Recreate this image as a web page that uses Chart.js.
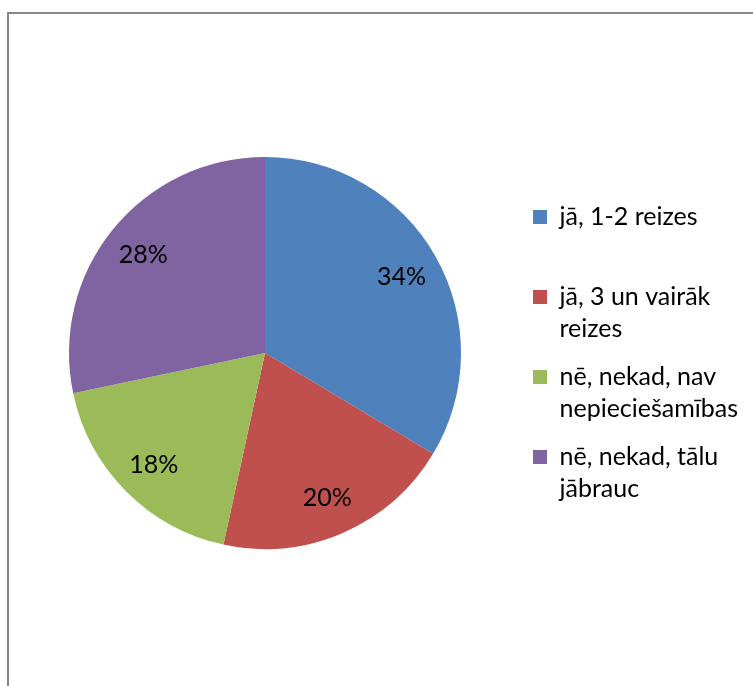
<!DOCTYPE html>
<html><head><meta charset="utf-8">
<script src="https://cdn.jsdelivr.net/npm/chart.js@4"></script>
<style>
html,body{margin:0;padding:0;background:#fff;overflow:hidden}
#wrap{position:relative;width:753px;height:686px;overflow:hidden}
#frame{position:absolute;left:7px;top:12px;width:800px;height:700px;border-left:2px solid #888;border-top:2px solid #888;box-sizing:border-box}
canvas{position:absolute;left:0;top:0}
</style></head><body>
<div id="wrap"><div id="frame"></div><canvas id="c" width="753" height="686"></canvas></div>
<script>
const categories = ["jā, 1-2 reizes", "jā, 3 un vairāk\nreizes", "nē, nekad, nav\nnepieciešamības", "nē, nekad, tālu\njābrauc"];
const values = [33.6, 19.8, 18.3, 28.3];
const colors = ["#4F81BD", "#C0504D", "#9BBB59", "#8064A2"];

const FONT = "Lato";

const legendWidth = {
  id: 'legendWidth',
  beforeLayout(chart) {
    const lg = chart.legend;
    if (lg && !lg._wPatched) {
      const f = lg.fit;
      lg.fit = function () { f.call(this); this.width = 236; };
      lg._wPatched = true;
    }
  }
};

const pctLabels = {
  id: 'pctLabels',
  afterDatasetsDraw(chart) {
    const ctx = chart.ctx;
    const meta = chart.getDatasetMeta(0);
    const total = values.reduce((a, b) => a + b, 0);
    ctx.save();
    ctx.font = "25px " + FONT;
    ctx.fillStyle = "#000";
    ctx.textAlign = "center";
    ctx.textBaseline = "middle";
    meta.data.forEach((arc, i) => {
      const p = arc.getProps(['x', 'y', 'startAngle', 'endAngle', 'outerRadius'], true);
      const mid = (p.startAngle + p.endAngle) / 2;
      const r = p.outerRadius * 0.8;
      ctx.fillText(Math.round(values[i] / total * 100) + "%", p.x + Math.cos(mid) * r, p.y + Math.sin(mid) * r + 1);
    });
    ctx.restore();
  }
};

new Chart(document.getElementById('c'), {
  type: 'pie',
  data: {
    labels: categories,
    datasets: [{ data: values, backgroundColor: colors, borderWidth: 0 }]
  },
  plugins: [legendWidth, pctLabels],
  options: {
    responsive: false,
    animation: false,
    devicePixelRatio: 1,
    layout: { padding: { left: 13, right: 0, top: 157, bottom: 137 } },
    plugins: {
      tooltip: { enabled: false },
      legend: {
        position: 'right',
        title: { display: true, text: '', padding: 0, font: { size: 7, lineHeight: 1 } },
        labels: {
          boxWidth: 14,
          boxHeight: 14,
          padding: 16,
          color: '#000',
          font: { family: FONT, size: 25, lineHeight: 32 / 25 },
          generateLabels(chart) {
            return categories.map((c, i) => {
              const lines = c.split("\n");
              while (lines.length < 2) lines.push("");
              return {
                text: lines,
                fillStyle: colors[i],
                strokeStyle: colors[i],
                lineWidth: 0,
                hidden: false,
                index: i,
                fontColor: '#000'
              };
            });
          }
        }
      }
    }
  }
});
</script>
</body></html>
